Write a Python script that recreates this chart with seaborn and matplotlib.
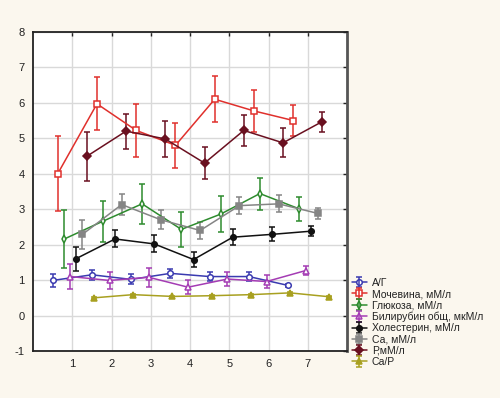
import numpy as np
import pandas as pd
import seaborn as sns
import matplotlib
matplotlib.use("Agg")
import matplotlib.pyplot as plt
from matplotlib.legend_handler import HandlerTuple

# series names (legend order)
series = ["А/Г", "Мочевина, мМ/л", "Глюкоза, мМ/л", "Билирубин общ, мкМ/л",
          "Холестерин, мМ/л", "Са, мМ/л", "Р,мМ/л", "Са/Р"]
groups = [1, 2, 3, 4, 5, 6, 7]
# horizontal offsets of each series around the group position
offsets = [-0.50, -0.37, -0.22, -0.05, 0.09, 0.26, 0.37, 0.55]

# means
ag_mean = [0.99, 1.15, 1.02, 1.19, 1.10, 1.10, 0.85]
urea_mean = [4.00, 5.97, 5.22, 4.80, 6.10, 5.77, 5.50]
glu_mean = [2.15, 2.66, 3.15, 2.43, 2.86, 3.44, 3.01]
bili_mean = [1.10, 0.99, 1.08, 0.80, 1.03, 0.96, 1.27]
chol_mean = [1.60, 2.16, 2.02, 1.58, 2.21, 2.29, 2.38]
ca_mean = [2.29, 3.13, 2.70, 2.40, 3.10, 3.15, 2.88]
p_mean = [4.49, 5.20, 4.98, 4.30, 5.22, 4.87, 5.47]
cap_mean = [0.50, 0.59, 0.54, 0.56, 0.59, 0.64, 0.53]

# half-widths of the error bars
ag_err = [0.18, 0.14, 0.14, 0.13, 0.12, 0.12, 0.05]
urea_err = [1.05, 0.75, 0.74, 0.63, 0.65, 0.60, 0.44]
glu_err = [0.82, 0.58, 0.57, 0.50, 0.50, 0.45, 0.34]
bili_err = [0.34, 0.23, 0.27, 0.19, 0.20, 0.17, 0.12]
chol_err = [0.33, 0.24, 0.24, 0.21, 0.22, 0.20, 0.14]
ca_err = [0.40, 0.29, 0.27, 0.25, 0.25, 0.24, 0.16]
p_err = [0.70, 0.49, 0.50, 0.44, 0.44, 0.41, 0.28]
cap_err = [0.02, 0.02, 0.02, 0.02, 0.02, 0.02, 0.02]

means = [ag_mean, urea_mean, glu_mean, bili_mean, chol_mean, ca_mean, p_mean, cap_mean]
errs = [ag_err, urea_err, glu_err, bili_err, chol_err, ca_err, p_err, cap_err]

colors = ["#3A3AB0", "#E0302C", "#2E8B2E", "#A43CB4", "#111111", "#858585", "#6A1020", "#A8A020"]
markers = ["o", "s", "d", "^", "o", "s", "D", "^"]
filled = [False, False, False, False, True, True, True, True]

rows = []
for name, off, m, e in zip(series, offsets, means, errs):
    for g, v, ev in zip(groups, m, e):
        rows.append({"series": name, "x": g + off, "val": v, "err": ev})
df = pd.DataFrame(rows)

sns.set_style("white")
plt.rcParams['font.family'] = ['Liberation Sans', 'DejaVu Sans']
plt.rcParams['axes.unicode_minus'] = False

fig = plt.figure(figsize=(5.0, 3.98), dpi=100)
fig.patch.set_facecolor("#FBF7EE")
ax = fig.add_axes([0.066, 0.118, 0.628, 0.802])
ax.set_facecolor("white")

handles = []
for name, c, mk, fl in zip(series, colors, markers, filled):
    d = df[df["series"] == name]
    eb = ax.errorbar(d["x"], d["val"], yerr=d["err"], fmt="none", ecolor=c,
                     elinewidth=1.1, capsize=2, capthick=1.1, zorder=3)
    sns.lineplot(x=d["x"].values, y=d["val"].values, ax=ax, color=c, lw=1.1,
                 marker=mk, markersize=4, markeredgewidth=1.1,
                 markeredgecolor=c, markerfacecolor=(c if fl else "white"),
                 legend=False, zorder=4, sort=False)
    line = ax.lines[-1]
    handles.append((line, eb))

ax.set_xlim(0, 8)
ax.set_ylim(-1, 8)
ax.set_xticks(groups)
ax.set_yticks(range(-1, 9))
ax.set_xlabel("")
ax.set_ylabel("")
ax.grid(True, color="#D9D9D9", lw=1)
ax.set_axisbelow(True)
ax.tick_params(direction="in", length=3, width=1, top=True, right=True,
               labelsize=8, labelcolor="#222222", colors="#222222", pad=6)
for s in ["left", "bottom", "top"]:
    ax.spines[s].set_color("#222222")
    ax.spines[s].set_linewidth(1.3)
ax.spines["right"].set_color("#555555")
ax.spines["right"].set_linewidth(2)

fig.legend(handles, series, loc="upper left", bbox_to_anchor=(0.703, 0.302),
           frameon=False, fontsize=7.5, handlelength=1.5, handletextpad=0.45,
           labelspacing=0.12, borderpad=0, borderaxespad=0, labelcolor="#222222",
           handler_map={tuple: HandlerTuple(ndivide=1)})

fig.savefig("out.png", dpi=100, facecolor=fig.get_facecolor())
